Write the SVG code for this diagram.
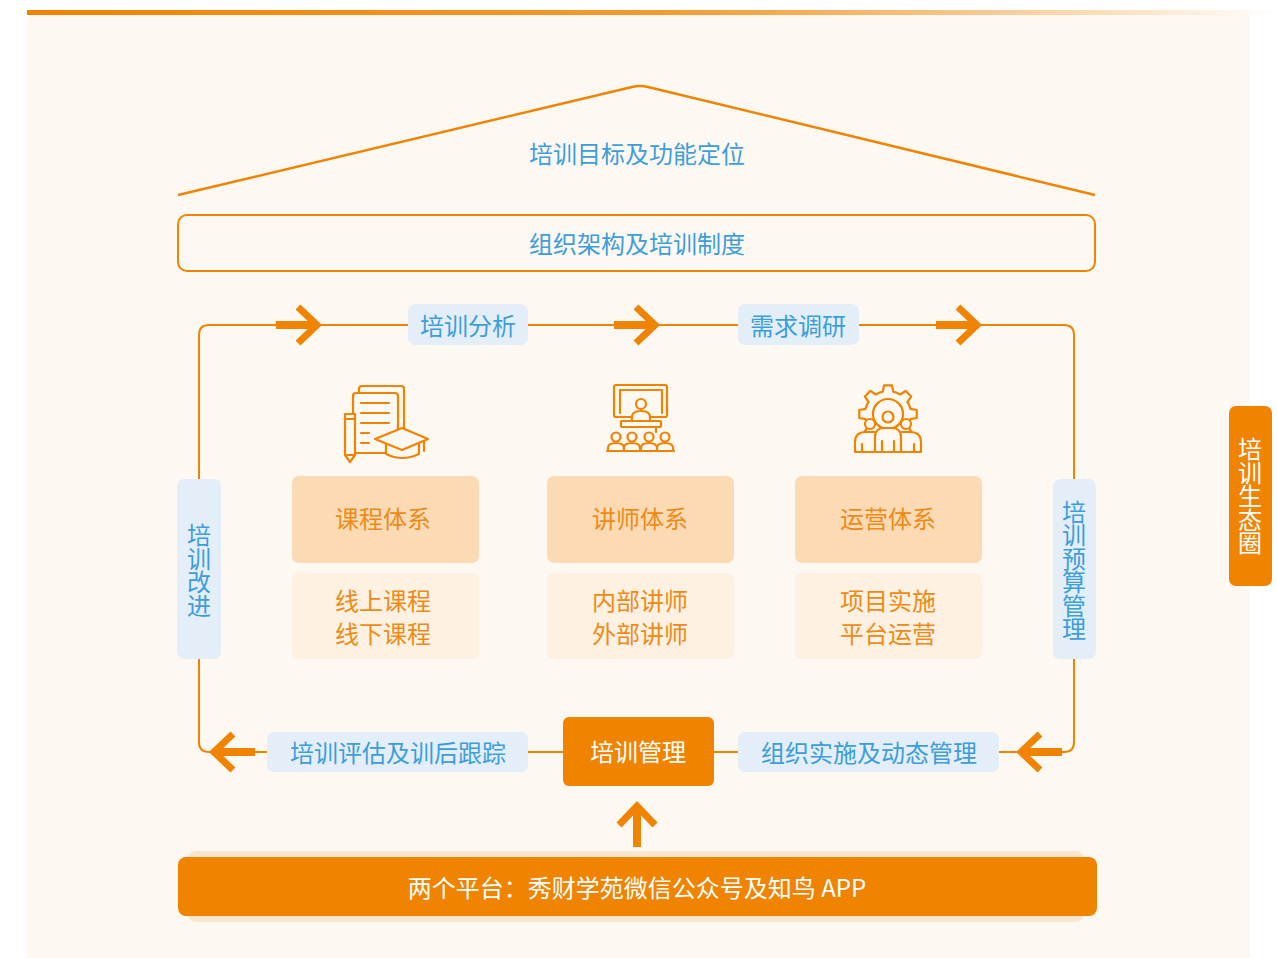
<svg xmlns="http://www.w3.org/2000/svg" width="1277" height="958" viewBox="0 0 1277 958">
<defs>
<linearGradient id="topbar" x1="0" y1="0" x2="1" y2="0">
<stop offset="0" stop-color="#F08300"/>
<stop offset="0.5" stop-color="#F39A2E"/>
<stop offset="1" stop-color="#F08300" stop-opacity="0"/>
</linearGradient>
<g id="arr">
<path d="M-44,0 H-8" stroke="#F08300" stroke-width="8" fill="none"/>
<path d="M-22,-18 L-3,0 L-22,18" stroke="#F08300" stroke-width="7" fill="none" stroke-linecap="butt"/>
</g>
</defs>
<style>
text{font-family:"Noto Sans CJK SC","Noto Sans",sans-serif;}
.blue{fill:#3C9EDA;font-size:24px;}
.lbl{fill:#E4EEF9;}
.white{fill:#FFFFFF;font-size:24px;}
.otxt{fill:#EF8A17;font-size:24px;}
.vt{writing-mode:vertical-rl;letter-spacing:-0.5px;}
.hdr{fill:#FCDAB4;}
.body{fill:#FEF1E1;}
.line{stroke:#F08300;stroke-width:2;fill:none;}
.ic{stroke:#F08300;stroke-width:2.2;fill:none;stroke-linejoin:round;stroke-linecap:round;}
.icf{stroke:#F08300;stroke-width:2.2;fill:#FEF8F2;stroke-linejoin:round;stroke-linecap:round;}
</style>
<rect x="0" y="0" width="1277" height="958" fill="#FFFFFF"/>
<rect x="27" y="15" width="1223" height="943" fill="#FEF8F2"/>
<rect x="27" y="10" width="1250" height="5" fill="url(#topbar)"/>

<g id="roof">
<path d="M178,195 L632,87 Q640,85 648,87 L1095,195" stroke="#F08300" stroke-width="2.5" fill="none"/>
<text class="blue" x="637" y="152" text-anchor="middle" dominant-baseline="central">培训目标及功能定位</text>
</g>

<g id="org">
<rect x="178" y="215" width="917" height="56" rx="9" fill="none" stroke="#F08300" stroke-width="2"/>
<text class="blue" x="637" y="242" text-anchor="middle" dominant-baseline="central">组织架构及培训制度</text>
</g>

<g id="connectors">
<path class="line" d="M199,480 V335 Q199,325 209,325 H1064 Q1074,325 1074,335 V480"/>
<path class="line" d="M199,659 V742 Q199,752 209,752 H1064 Q1074,752 1074,742 V659"/>
<use href="#arr" transform="translate(320,325)"/>
<use href="#arr" transform="translate(658,325)"/>
<use href="#arr" transform="translate(980,325)"/>
<use href="#arr" transform="translate(211,752) rotate(180)"/>
<use href="#arr" transform="translate(1018,752) rotate(180)"/>
<use href="#arr" transform="translate(637,803) rotate(-90)"/>
</g>

<g id="analysis">
<rect class="lbl" x="408" y="304" width="120" height="41" rx="7"/>
<text class="blue" x="468" y="324" text-anchor="middle" dominant-baseline="central">培训分析</text>
</g>
<g id="research">
<rect class="lbl" x="738" y="304" width="121" height="41" rx="7"/>
<text class="blue" x="798" y="324" text-anchor="middle" dominant-baseline="central">需求调研</text>
</g>
<g id="improve">
<rect class="lbl" x="177" y="479" width="44" height="180" rx="7"/>
<text class="blue vt" x="199" y="570" text-anchor="middle">培训改进</text>
</g>
<g id="budget">
<rect class="lbl" x="1053" y="479" width="43" height="180" rx="7"/>
<text class="blue vt" x="1074" y="570" text-anchor="middle">培训预算管理</text>
</g>
<g id="evaluate">
<rect class="lbl" x="267" y="732" width="261" height="40" rx="7"/>
<text class="blue" x="398" y="751" text-anchor="middle" dominant-baseline="central">培训评估及训后跟踪</text>
</g>
<g id="implement">
<rect class="lbl" x="738" y="732" width="261" height="40" rx="7"/>
<text class="blue" x="869" y="751" text-anchor="middle" dominant-baseline="central">组织实施及动态管理</text>
</g>
<g id="manage">
<rect x="563" y="717" width="151" height="69" rx="6" fill="#F08300"/>
<text class="white" x="638" y="750" text-anchor="middle" dominant-baseline="central">培训管理</text>
</g>

<g id="course">
<rect class="hdr" x="292" y="476" width="187" height="87" rx="7"/>
<text class="otxt" x="383" y="517" text-anchor="middle" dominant-baseline="central">课程体系</text>
<rect class="body" x="292" y="573" width="187" height="86" rx="7"/>
<text class="otxt" text-anchor="middle" dominant-baseline="central"><tspan x="383" y="599">线上课程</tspan><tspan x="383" y="632">线下课程</tspan></text>
</g>
<g id="lecturer">
<rect class="hdr" x="547" y="476" width="187" height="87" rx="7"/>
<text class="otxt" x="640" y="517" text-anchor="middle" dominant-baseline="central">讲师体系</text>
<rect class="body" x="547" y="573" width="187" height="86" rx="7"/>
<text class="otxt" text-anchor="middle" dominant-baseline="central"><tspan x="640" y="599">内部讲师</tspan><tspan x="640" y="632">外部讲师</tspan></text>
</g>
<g id="operation">
<rect class="hdr" x="795" y="476" width="187" height="87" rx="7"/>
<text class="otxt" x="888" y="517" text-anchor="middle" dominant-baseline="central">运营体系</text>
<rect class="body" x="795" y="573" width="187" height="86" rx="7"/>
<text class="otxt" text-anchor="middle" dominant-baseline="central"><tspan x="888" y="599">项目实施</tspan><tspan x="888" y="632">平台运营</tspan></text>
</g>

<g id="icon-course">
<rect class="icf" x="359" y="386" width="45" height="60" rx="3"/>
<rect class="icf" x="353" y="393" width="45" height="60" rx="3"/>
<path class="ic" d="M361,403 H389 M361,413 H389 M361,423 H389 M361,433 H369 M361,443 H369"/>
<path class="icf" d="M345,414 H355 V455 L350,462 L345,455 Z"/>
<path class="ic" d="M345,419 H355 M345,455 H355"/>
<path class="icf" d="M386,443 V454 Q402,462 419,454 V443"/>
<path class="icf" d="M375,439 L402,428 L428,439 L402,450 Z"/>
<path class="ic" d="M424,441 V451"/>
</g>

<g id="icon-lecturer">
<rect class="ic" x="614" y="385" width="53" height="32" rx="2"/>
<path class="ic" d="M620,413 V390 H662 V413"/>
<path class="icf" d="M632,422 V417 Q632,411 641,411 Q650,411 650,417 V422"/>
<circle class="icf" cx="641" cy="404" r="5"/>
<rect class="icf" x="621" y="421" width="40" height="6" rx="1"/>
<path class="ic" d="M656,427 V432"/>
<path class="icf" d="M608,451 V448 Q608,443 616,443 Q624,443 624,448 V451"/>
<path class="icf" d="M624,451 V448 Q624,443 632,443 Q640,443 640,448 V451"/>
<path class="icf" d="M641,451 V448 Q641,443 649,443 Q657,443 657,448 V451"/>
<path class="icf" d="M657,451 V448 Q657,443 665,443 Q673,443 673,448 V451"/>
<circle class="icf" cx="616" cy="437" r="4.5"/>
<circle class="icf" cx="632" cy="437" r="4.5"/>
<circle class="icf" cx="649" cy="437" r="4.5"/>
<circle class="icf" cx="665" cy="437" r="4.5"/>
<path class="ic" d="M607,451 H674"/>
</g>

<g id="icon-operation">
<path class="ic" d="M882.8,391.6 L884,385.3 L892,385.3 L893.2,391.6 A23,23 0 0 1 900.2,394.5 L905.5,390.8 L911.2,396.5 L907.5,401.8 A23,23 0 0 1 910.4,408.8 L916.7,410 L916.7,418 L910.4,419.2 A23,23 0 0 1 907.5,426.2 L911.2,431.5 L905.5,437.2 L900.2,433.5 A23,23 0 0 1 893.2,436.4 L892,442.7 L884,442.7 L882.8,436.4 A23,23 0 0 1 875.8,433.5 L870.5,437.2 L864.8,431.5 L868.5,426.2 A23,23 0 0 1 865.6,419.2 L859.3,418 L859.3,410 L865.6,408.8 A23,23 0 0 1 868.5,401.8 L864.8,396.5 L870.5,390.8 L875.8,394.5 A23,23 0 0 1 882.8,391.6 Z"/>
<circle class="ic" cx="888" cy="414" r="15"/>
<path class="icf" d="M855,452 V442 Q855,432 866,432 H874 Q880,432 880,440 V452 Z"/>
<path class="icf" d="M921,452 V442 Q921,432 910,432 H902 Q896,432 896,440 V452 Z"/>
<path class="ic" d="M862,452 V444 M914,452 V444"/>
<circle class="icf" cx="870" cy="424" r="5"/>
<circle class="icf" cx="906" cy="424" r="5"/>
<path class="icf" d="M875,452 V437 Q875,428 884,428 H892 Q901,428 901,437 V452 Z"/>
<path class="ic" d="M882,452 V441 M894,452 V441 M884,452 H892"/>
<circle class="icf" cx="888" cy="417" r="5.5"/>
</g>

<g id="platform">
<rect x="188" y="851" width="896" height="71" rx="8" fill="#FCE5CD"/>
<rect x="178" y="857" width="919" height="59" rx="8" fill="#F08300"/>
<text class="white" x="637" y="886" text-anchor="middle" dominant-baseline="central">两个平台：秀财学苑微信公众号及知鸟 APP</text>
</g>

<g id="ecosystem">
<rect x="1229" y="406" width="43" height="180" rx="7" fill="#F08300"/>
<text class="white vt" x="1250" y="496" text-anchor="middle">培训生态圈</text>
</g>
</svg>
